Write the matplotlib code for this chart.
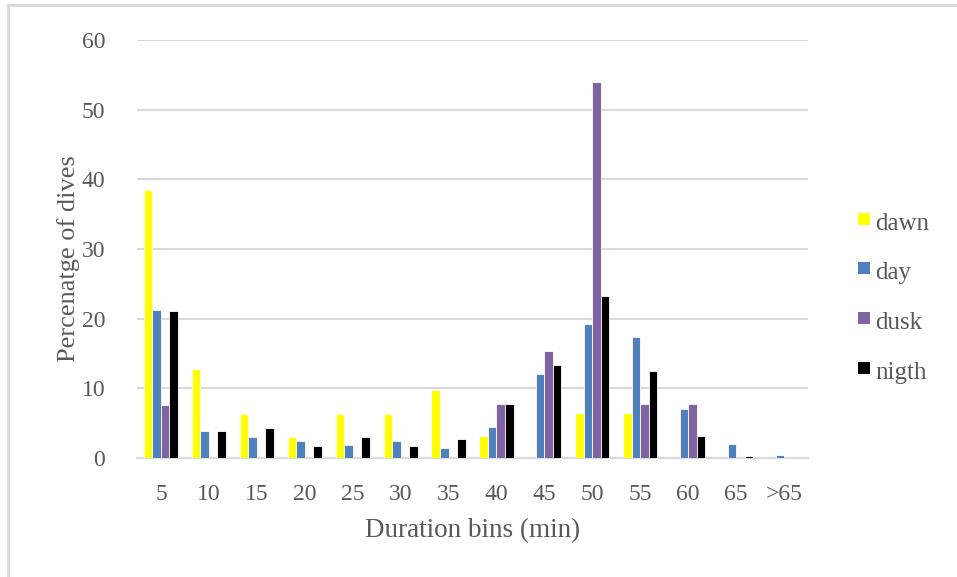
import matplotlib
matplotlib.use("Agg")
import matplotlib.pyplot as plt
import numpy as np
from matplotlib.patches import Rectangle

categories = ["5", "10", "15", "20", "25", "30", "35", "40", "45", "50", "55", "60", "65", ">65"]
dawn = [38.5, 12.8, 6.3, 3.0, 6.3, 6.3, 9.7, 3.1, 0, 6.4, 6.4, 0, 0, 0]
day = [21.2, 3.9, 3.0, 2.45, 1.9, 2.45, 1.4, 4.5, 12.1, 19.3, 17.3, 7.1, 2.0, 0.5]
dusk = [7.6, 0, 0, 0, 0, 0, 0, 7.7, 15.4, 53.9, 7.7, 7.7, 0, 0]
night = [21.05, 3.9, 4.3, 1.7, 3.0, 1.7, 2.7, 7.7, 13.4, 23.3, 12.5, 3.1, 0.3, 0]
series_names = ["dawn", "day", "dusk", "nigth"]
yticks = [0, 10, 20, 30, 40, 50, 60]

colors = ["#FFFF00", "#4F81BD", "#8064A2", "#000000"]
grey = "#595959"
font = "Liberation Serif"
W, H = 957, 577

fig = plt.figure(figsize=(W / 100, H / 100), dpi=100)
# chart-area border (only top and left edges visible in the crop)
fig.patches.append(Rectangle((8 / W, -0.2), 1.5, 1.2 - 5 / H, transform=fig.transFigure,
                             fill=False, edgecolor="#D9D9D9", linewidth=2.0))
ax = fig.add_axes([137 / W, 1 - 458 / H, (808 - 137) / W, (458 - 40) / H])

x = np.arange(len(categories))
w = 0.178
for i, (vals, name) in enumerate(zip([dawn, day, dusk, night], series_names)):
    ax.bar(x + (i - 1.5) * w, vals, width=w, color=colors[i], edgecolor="white",
           linewidth=0.6, label=name, zorder=3)

ax.set_xlim(-0.5, len(categories) - 0.5)
ax.set_ylim(0, 60)
ax.set_yticks(yticks)
ax.set_yticklabels([str(t) for t in yticks], fontsize=17, color=grey, family=font)
ax.set_xticks(x)
ax.set_xticklabels(categories, fontsize=17, color=grey, family=font)
ax.tick_params(axis="x", length=0, pad=19)
ax.tick_params(axis="y", length=0, pad=23)
ax.yaxis.grid(True, color="#D9D9D9", linewidth=1.5, zorder=0)
ax.set_axisbelow(True)
for s in ["top", "right", "left"]:
    ax.spines[s].set_visible(False)
ax.spines["bottom"].set_color("#D9D9D9")
ax.spines["bottom"].set_linewidth(1.5)

ax.set_xlabel("Duration bins (min)", fontsize=19.5, color=grey, family=font)
ax.xaxis.set_label_coords(0.5, -(531 - 458) / 418, transform=ax.transAxes)
ax.xaxis.label.set_va("center")
ax.set_ylabel("Percenatge of dives", fontsize=19, color=grey, family=font)
ax.yaxis.set_label_coords((69 - 137) / 671, (458 - 259) / 418, transform=ax.transAxes)
ax.yaxis.label.set_va("center")

# legend entries
leg_y = [221, 270, 320, 370]
for name, c, yy in zip(series_names, colors, leg_y):
    fig.patches.append(Rectangle((858 / W, 1 - (yy + 4) / H), 12 / W, 12 / H,
                                 transform=fig.transFigure, facecolor=c, edgecolor="none"))
    fig.text(875 / W, 1 - (yy + 3) / H, name, fontsize=18, color=grey, family=font,
             va="center", ha="left")

fig.savefig("out.png", dpi=100)
